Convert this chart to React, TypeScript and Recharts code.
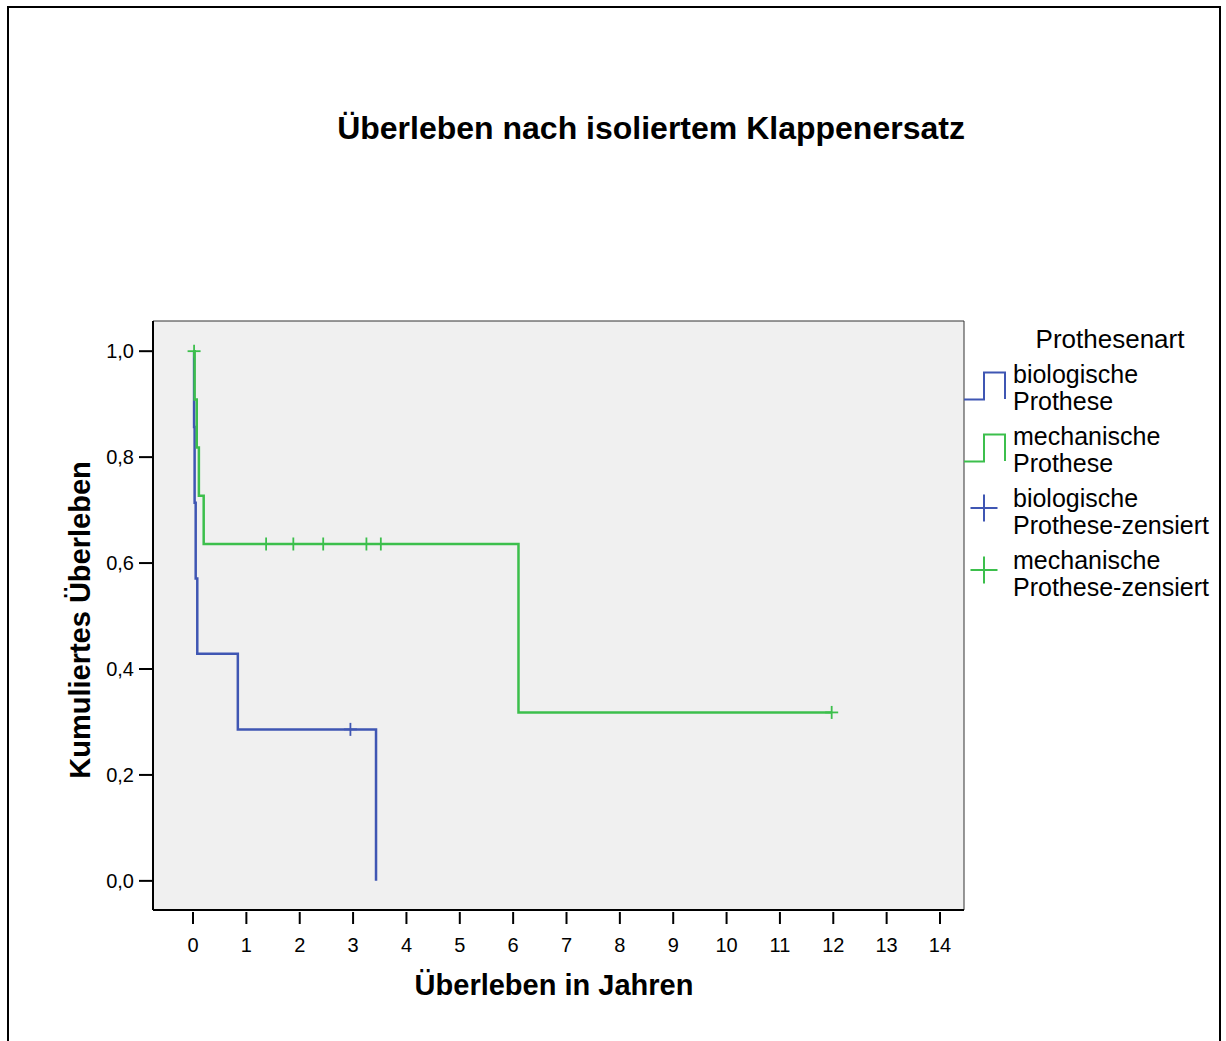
import React from 'react';
import { ComposedChart, Line, Scatter, XAxis, YAxis, ReferenceArea } from 'recharts';

// Kaplan-Meier Stufen (Zeit in Jahren, kumuliertes Überleben)
const bioTime = [0, 0.02, 0.03, 0.05, 0.08, 0.84, 3.43];
const bioSurv = [1, 0.857, 0.714, 0.571, 0.429, 0.286, 0];
const bioCensTime = [2.95];
const bioCensSurv = [0.286];

const mechTime = [0, 0.03, 0.07, 0.11, 0.2, 6.1, 11.97];
const mechSurv = [1, 0.909, 0.818, 0.727, 0.636, 0.318, 0.318];
const mechCensTime = [0.02, 1.37, 1.88, 2.44, 3.25, 3.52, 11.97];
const mechCensSurv = [1, 0.636, 0.636, 0.636, 0.636, 0.636, 0.318];

const xTicks = [0, 1, 2, 3, 4, 5, 6, 7, 8, 9, 10, 11, 12, 13, 14];
const yTicks = [0, 0.2, 0.4, 0.6, 0.8, 1.0];

const legendNames = ['biologische Prothese', 'mechanische Prothese', 'biologische Prothese-zensiert', 'mechanische Prothese-zensiert'];

const BLUE = '#3f56b3';
const GREEN = '#3cbf4c';
const FONT = 'Arial, "Liberation Sans", sans-serif';

const xDomain = [-0.75, 14.45];
const yDomain = [-0.055, 1.057];

const toRows = (t: number[], s: number[]) => t.map((v, i) => ({ t: v, s: s[i] }));

const bioData = toRows(bioTime, bioSurv);
const mechData = toRows(mechTime, mechSurv);
const bioCens = toRows(bioCensTime, bioCensSurv);
const mechCens = toRows(mechCensTime, mechCensSurv);

const plus = (color: string, arm: number, w = 1.8) => (props: any) => {
  const { cx, cy } = props;
  return (
    <g>
      <line x1={cx - arm} x2={cx + arm} y1={cy} y2={cy} stroke={color} strokeWidth={w} />
      <line x1={cx} x2={cx} y1={cy - arm} y2={cy + arm} stroke={color} strokeWidth={w} />
    </g>
  );
};

const XTick = ({ x, y, payload }: any) => (
  <g>
    <line x1={x} x2={x} y1={y + 2} y2={y + 14} stroke="#000" strokeWidth={2} />
    <text x={x} y={y + 42} textAnchor="middle" fontSize={20} fontFamily={FONT} fill="#000">
      {payload.value}
    </text>
  </g>
);

const abs = (left: number, top: number, extra: React.CSSProperties = {}): React.CSSProperties => ({
  position: 'absolute',
  left,
  top,
  whiteSpace: 'nowrap',
  fontFamily: FONT,
  color: '#000',
  ...extra,
});

const App = () => {
  return (
    <div style={{ position: 'relative', width: 1226, height: 1041, overflow: 'hidden', background: '#fff' }}>
      <style>{'body{margin:0}'}</style>
      <div style={{ position: 'absolute', left: 7, top: 6, width: 1214, height: 1100, border: '2px solid #000', boxSizing: 'border-box' }} />

      <ComposedChart width={1226} height={1041} margin={{ top: 321, right: 262, bottom: 71, left: 93 }}>
        <XAxis
          type="number"
          dataKey="t"
          domain={xDomain}
          ticks={xTicks}
          allowDataOverflow
          height={60}
          tickSize={0}
          tickMargin={0}
          tickLine={false}
          tick={<XTick />}
          axisLine={{ stroke: '#000', strokeWidth: 2 }}
        />
        <YAxis
          type="number"
          domain={yDomain}
          ticks={yTicks}
          allowDataOverflow
          width={60}
          tickSize={14}
          tickMargin={5}
          tickLine={{ stroke: '#000', strokeWidth: 2 }}
          axisLine={{ stroke: '#000', strokeWidth: 2 }}
          tick={{ fontSize: 20, fontFamily: FONT, fill: '#000' }}
          tickFormatter={(v: number) => v.toFixed(1).replace('.', ',')}
        />
        <ReferenceArea x1={xDomain[0]} x2={xDomain[1]} y1={yDomain[0]} y2={yDomain[1]} fill="#f0f0f0" fillOpacity={1} stroke="#333" strokeWidth={1} />
        <Line data={bioData} dataKey="s" type="stepAfter" stroke={BLUE} strokeWidth={2.5} dot={false} isAnimationActive={false} />
        <Line data={mechData} dataKey="s" type="stepAfter" stroke={GREEN} strokeWidth={2.5} dot={false} isAnimationActive={false} />
        <Scatter data={bioCens} dataKey="s" shape={plus(BLUE, 6.5)} isAnimationActive={false} />
        <Scatter data={mechCens} dataKey="s" shape={plus(GREEN, 6.5)} isAnimationActive={false} />
      </ComposedChart>

      <div style={abs(651, 128, { transform: 'translate(-50%, -50%)', fontSize: 32, fontWeight: 'bold' })}>
        Überleben nach isoliertem Klappenersatz
      </div>
      <div style={abs(554, 985, { transform: 'translate(-50%, -50%)', fontSize: 29, fontWeight: 'bold' })}>
        Überleben in Jahren
      </div>
      <div style={abs(80, 620, { transform: 'translate(-50%, -50%) rotate(-90deg)', fontSize: 29, fontWeight: 'bold' })}>
        Kumuliertes Überleben
      </div>

      {/* Legende */}
      <div style={{ position: 'absolute', left: 962, top: 320, width: 257, height: 290, overflow: 'hidden' }}>
        <div style={abs(148, 19, { transform: 'translate(-50%, -50%)', fontSize: 26 })}>Prothesenart</div>
        <svg width={257} height={290} style={{ position: 'absolute', left: 0, top: 0 }}>
          <path d="M2 79.5 H22 V52.5 H43 V79" fill="none" stroke={BLUE} strokeWidth={2} />
          <path d="M2 141.5 H22 V114.5 H43 V141" fill="none" stroke={GREEN} strokeWidth={2} />
          <g>{plus(BLUE, 13.5, 2)({ cx: 22, cy: 188 })}</g>
          <g>{plus(GREEN, 13.5, 2)({ cx: 22, cy: 250 })}</g>
        </svg>
        {legendNames.map((name, i) => {
          const parts = name.split(' ');
          return (
            <div key={name} style={abs(51, 41 + i * 62, { fontSize: 25, lineHeight: '27px' })}>
              {parts[0]}
              <br />
              {parts[1]}
            </div>
          );
        })}
      </div>
    </div>
  );
};

export default App;
